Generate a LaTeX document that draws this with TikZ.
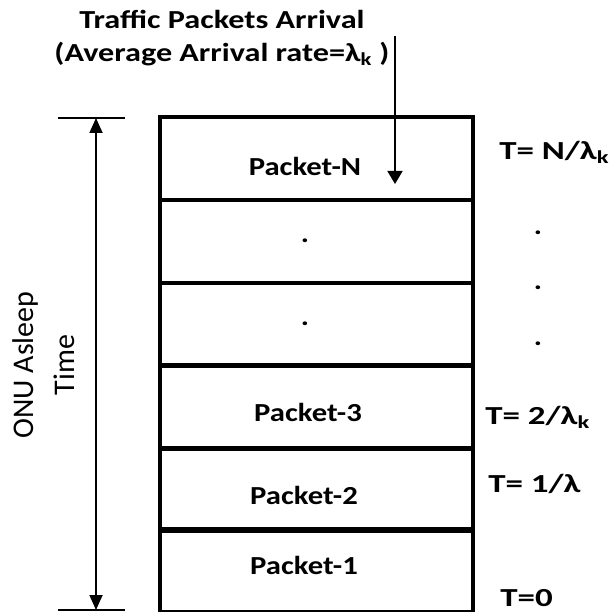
\documentclass[tikz,border=0pt]{standalone}
\usepackage{fontspec}
\setmainfont{Carlito}
\usetikzlibrary{arrows.meta}
\begin{document}
\begin{tikzpicture}[x=1pt,y=-1pt,
  row/.style={draw,line width=4pt,minimum width=313pt,minimum height=83pt,inner sep=0pt},
  lbl/.style={font=\fontsize{26}{33}\selectfont\bfseries,inner sep=0pt,xscale=1.18},
  tlbl/.style={lbl,xscale=1.14},
  side/.style={font=\fontsize{30}{41}\selectfont,inner sep=0pt},
  thin/.style={line width=1.8pt},
  tip/.style={-{Triangle[length=13pt,width=15pt]}},
  dtip/.style={{Triangle[length=15pt,width=13pt]}-{Triangle[length=15pt,width=13pt]}}]
\useasboundingbox (0,0) rectangle (616,612);
% rows
\node[row] (r6) at (316.5,159) {};
\node[row] (r5) at (316.5,241.5) {};
\node[row] (r4) at (316.5,324.5) {};
\node[row] (r3) at (316.5,407) {};
\node[row] (r2) at (316.5,489) {};
\node[row] (r1) at (316.5,570.5) {};
% row labels
\node[lbl] (pN) at (305,166) {Packet-N};
\node[lbl,anchor=base] (d1) at (305,243) {.};
\node[lbl,anchor=base] (d2) at (305,326) {.};
\node[lbl] (p3) at (308,412) {Packet-3};
\node[lbl] (p2) at (304,495) {Packet-2};
\node[lbl] (p1) at (304,565) {Packet-1};
% title
\node[lbl,xscale=1.05,align=center] (title) at (222,38) {Traffic Packets Arrival\\(Average Arrival rate=λ\textsubscript{k} )};
\coordinate (a0) at (395,36);
\coordinate (a1) at (395,184);
\draw[thin,tip] (a0) -- (a1);
% time labels
\node[tlbl,anchor=west] (tN) at (499,152) {T= N/λ\textsubscript{k}};
\node[lbl,anchor=base] (e1) at (538,235) {.};
\node[lbl,anchor=base] (e2) at (538,290) {.};
\node[lbl,anchor=base] (e3) at (538,345) {.};
\node[tlbl,anchor=west] (t2) at (485,417) {T= 2/λ\textsubscript{k}};
\node[tlbl,anchor=west] (t1) at (488,484) {T= 1/λ};
\node[tlbl,anchor=west] (t0) at (500,598) {T=0};
% dimension
\coordinate (ta) at (58,118);
\coordinate (tb) at (125,118);
\coordinate (ba) at (58,610);
\coordinate (bb) at (125,610);
\coordinate (da) at (96,118);
\coordinate (db) at (96,610);
\draw[thin] (ta) -- (tb);
\draw[thin] (ba) -- (bb);
\draw[thin,dtip] (da) -- (db);
\node[side,rotate=90,align=center] (onu) at (44,365) {ONU Asleep\\Time};
\end{tikzpicture}
\end{document}
